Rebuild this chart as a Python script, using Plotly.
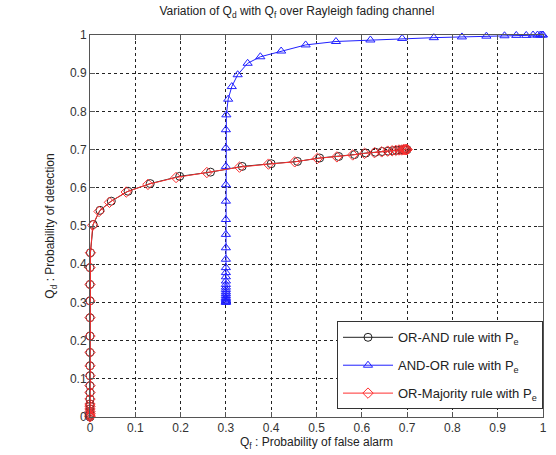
import plotly.graph_objects as go

# OR-AND rule with Pe (black circles)
orand_x = [0, 0, 0, 0, 0, 0, 0, 0, 0, 0, 0, 0, 0, 0, 0, 0, 0, 0, 0, 0.001,
           0.007, 0.022, 0.047, 0.084, 0.133, 0.198, 0.266, 0.336, 0.400, 0.458,
           0.507, 0.549, 0.584, 0.609, 0.630, 0.645, 0.658, 0.668, 0.676, 0.683,
           0.688, 0.692, 0.695, 0.697, 0.699, 0.700]
orand_y = [0.0, 0.002, 0.005, 0.009, 0.014, 0.021, 0.028, 0.034, 0.047, 0.064,
           0.082, 0.108, 0.134, 0.169, 0.212, 0.260, 0.304, 0.347, 0.391, 0.430,
           0.504, 0.541, 0.565, 0.591, 0.611, 0.630, 0.641, 0.656, 0.663, 0.669,
           0.678, 0.682, 0.687, 0.691, 0.693, 0.695, 0.696, 0.697, 0.698, 0.699,
           0.699, 0.700, 0.700, 0.700, 0.700, 0.700]

# AND-OR rule with Pe (blue triangles)
andor_x = [0.3, 0.3, 0.3, 0.3, 0.3, 0.3, 0.3, 0.3, 0.3, 0.3, 0.3, 0.3, 0.3, 0.3,
           0.3, 0.3, 0.3, 0.3, 0.3, 0.3, 0.3, 0.3, 0.3, 0.3, 0.3, 0.3, 0.301, 0.305,
           0.313, 0.326, 0.348, 0.376, 0.422, 0.476, 0.543, 0.619, 0.689, 0.759,
           0.821, 0.875, 0.915, 0.941, 0.963, 0.978, 0.988, 0.994, 0.998, 1.0]
andor_y = [0.300, 0.301, 0.302, 0.304, 0.307, 0.310, 0.313, 0.318, 0.323, 0.328,
           0.334, 0.340, 0.347, 0.356, 0.367, 0.378, 0.391, 0.413, 0.443, 0.478,
           0.517, 0.565, 0.608, 0.656, 0.704, 0.752, 0.791, 0.832, 0.865, 0.896,
           0.926, 0.943, 0.958, 0.974, 0.983, 0.987, 0.991, 0.993, 0.995, 0.997,
           0.998, 0.999, 0.999, 1.0, 1.0, 1.0, 1.0, 1.0]

# OR-Majority rule with Pe (red diamonds)
ormaj_x = [0, 0, 0, 0, 0, 0, 0, 0, 0, 0, 0, 0, 0, 0, 0, 0, 0, 0, 0, 0.001,
           0.006, 0.020, 0.043, 0.080, 0.128, 0.190, 0.258, 0.330, 0.394, 0.452,
           0.502, 0.545, 0.580, 0.606, 0.628, 0.644, 0.657, 0.667, 0.675, 0.682,
           0.688, 0.692, 0.695, 0.697, 0.699, 0.700]
ormaj_y = [0.0, 0.002, 0.005, 0.009, 0.014, 0.021, 0.028, 0.034, 0.047, 0.064,
           0.082, 0.108, 0.134, 0.169, 0.212, 0.260, 0.304, 0.347, 0.391, 0.430,
           0.502, 0.538, 0.562, 0.589, 0.609, 0.627, 0.640, 0.654, 0.662, 0.668,
           0.677, 0.681, 0.686, 0.690, 0.692, 0.694, 0.696, 0.697, 0.698, 0.699,
           0.699, 0.700, 0.700, 0.700, 0.700, 0.700]

ticks = [0, 0.1, 0.2, 0.3, 0.4, 0.5, 0.6, 0.7, 0.8, 0.9, 1]
tick_text = ["0", "0.1", "0.2", "0.3", "0.4", "0.5", "0.6", "0.7", "0.8", "0.9", "1"]

fig = go.Figure()
fig.add_trace(go.Scatter(
    x=orand_x, y=orand_y, mode="lines+markers",
    name="OR-AND rule with P<sub>e</sub>", legendrank=1, legendgroup="a",
    cliponaxis=False,
    line=dict(color="#222", width=1),
    marker=dict(symbol="circle-open", size=8, color="#222", line=dict(width=1))))
fig.add_trace(go.Scatter(
    x=andor_x, y=andor_y, mode="lines+markers",
    name="AND-OR rule with P<sub>e</sub>", legendrank=2, legendgroup="b",
    cliponaxis=False,
    line=dict(color="#2020ff", width=1),
    marker=dict(symbol="triangle-up-open", size=8, color="#2020ff", line=dict(width=1))))
fig.add_trace(go.Scatter(
    x=ormaj_x, y=ormaj_y, mode="lines+markers",
    name="OR-Majority rule with P<sub>e</sub>", legendrank=3, legendgroup="c",
    cliponaxis=False,
    line=dict(color="#ff3030", width=1),
    marker=dict(symbol="diamond-open", size=8, color="#ff3030", line=dict(width=1))))

axis_common = dict(
    range=[0, 1], tickvals=ticks, ticktext=tick_text,
    showgrid=True, gridcolor="#222", griddash="3px,3px", gridwidth=1,
    showline=True, linecolor="#555", linewidth=1, mirror="ticks",
    ticks="inside", ticklen=5, tickcolor="#555",
    tickfont=dict(family="Liberation Sans, Arial", size=12, color="#333"),
    zeroline=False,
)

fig.update_layout(
    width=556, height=455,
    margin=dict(l=90, r=9, t=35, b=37),
    paper_bgcolor="white", plot_bgcolor="white",
    font=dict(family="Liberation Sans, Arial", size=12, color="#222"),
    title=dict(text="Variation of Q<sub>d</sub> with Q<sub>f</sub> over Rayleigh fading channel",
               x=0.534, xanchor="center", y=0.985, yanchor="top",
               font=dict(size=12, color="#222")),
    xaxis=dict(**axis_common, title=dict(text="Q<sub>f</sub> : Probability of false alarm",
                                         standoff=2, font=dict(size=12))),
    yaxis=dict(**axis_common, title=dict(text="Q<sub>d</sub> : Probability of detection",
                                         standoff=12, font=dict(size=12))),
    legend=dict(x=1, xanchor="right", y=0.02, yanchor="bottom",
                bgcolor="white", bordercolor="#333", borderwidth=1,
                itemwidth=50,
                font=dict(size=13, color="#222"), tracegroupgap=8),
)

fig.write_html("out.html")
